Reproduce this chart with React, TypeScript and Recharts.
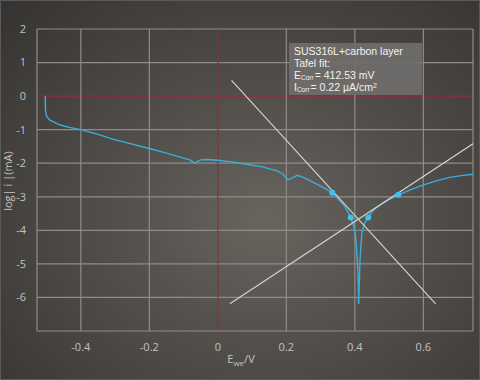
import React from 'react';
import { ComposedChart, Line, Scatter, XAxis, YAxis, ReferenceLine } from 'recharts';

// polarisation curve, E (V) vs log|i| (mA)
const curveE = [
  -0.504, -0.503, -0.5, -0.492, -0.48, -0.465, -0.45, -0.43, -0.4, -0.35, -0.307, -0.25, -0.2, -0.15,
  -0.11, -0.082, -0.068, -0.06, -0.05, -0.033, 0.0, 0.04, 0.084, 0.13, 0.171, 0.19, 0.205, 0.215, 0.232,
  0.25, 0.278, 0.298, 0.318, 0.334, 0.35, 0.366, 0.38, 0.388, 0.396, 0.401, 0.405, 0.408, 0.41, 0.411,
  0.413, 0.415, 0.418, 0.421, 0.428, 0.439, 0.45, 0.463, 0.492, 0.526, 0.56, 0.59, 0.63, 0.677, 0.71, 0.745,
];
const curveLogI = [
  0.0, -0.45, -0.6, -0.7, -0.77, -0.84, -0.89, -0.94, -1.0, -1.14, -1.28, -1.43, -1.56, -1.7,
  -1.82, -1.9, -1.99, -1.95, -1.9, -1.89, -1.91, -1.96, -2.03, -2.11, -2.22, -2.32, -2.5, -2.45, -2.36,
  -2.42, -2.57, -2.67, -2.78, -2.88, -3.05, -3.22, -3.45, -3.62, -3.85, -4.1, -4.5, -5.0, -5.6, -6.2,
  -5.6, -4.9, -4.4, -4.05, -3.8, -3.62, -3.45, -3.32, -3.12, -2.95, -2.8, -2.68, -2.55, -2.42, -2.37, -2.33,
];

// tafel fit lines
const cathodicE = [0.04, 0.636];
const cathodicLogI = [0.47, -6.19];
const anodicE = [0.035, 0.745];
const anodicLogI = [-6.19, -1.42];

// fit points
const fitE = [0.334, 0.388, 0.439, 0.527];
const fitLogI = [-2.88, -3.62, -3.62, -2.94];

const xMin = -0.528;
const xMax = 0.745;
const xTicks = [-0.4, -0.2, 0, 0.2, 0.4, 0.6];
const yTicks = [-6, -5, -4, -3, -2, -1, 0, 1, 2];
const yMin = -7;
const yMax = 2;

const curve = curveE.map((e, i) => ({ e, v: curveLogI[i] }));
const cathodic = cathodicE.map((e, i) => ({ e, v: cathodicLogI[i] }));
const anodic = anodicE.map((e, i) => ({ e, v: anodicLogI[i] }));
const fitPts = fitE.map((e, i) => ({ e, v: fitLogI[i] }));

const tickStyle = { fill: '#c4c2c0', fontSize: 11, fontFamily: '"Open Sans", sans-serif' };
const gridColor = '#8f8d89';
const zeroColor = '#8e2f3b';

const Dot = (props: any) => <circle cx={props.cx} cy={props.cy} r={3} fill="#3fc0f2" />;

const line = { height: 12, whiteSpace: 'nowrap' as const };
const sub = { fontSize: 6.5, position: 'relative' as const, top: 1, marginRight: 1 };

export default function App() {
  return (
    <div
      style={{
        position: 'absolute',
        left: 0,
        top: 0,
        width: 478,
        height: 378,
        border: '1px solid #5c5a58',
        background: 'radial-gradient(ellipse at 55% 58%, #68655f 0%, #4d4a47 50%, #353331 100%)',
        fontFamily: '"Open Sans", sans-serif',
      }}
    >
      <ComposedChart width={478} height={378} margin={{ top: 28, right: 6, bottom: 18, left: 0 }}>
        <XAxis
          type="number"
          dataKey="e"
          domain={[xMin, xMax]}
          ticks={xTicks}
          allowDataOverflow
          axisLine={false}
          tickLine={false}
          tick={tickStyle}
          tickMargin={6}
          height={30}
          label={{
            content: () => (
              <text x={240} y={362} textAnchor="middle" fill="#c4c2c0" fontSize={11}>
                E<tspan fontSize={8} dy={3}>we</tspan>
                <tspan dy={-3}>/V</tspan>
              </text>
            ),
          }}
        />
        <YAxis
          type="number"
          dataKey="v"
          domain={[yMin, yMax]}
          ticks={yTicks}
          allowDataOverflow
          axisLine={false}
          tickLine={false}
          tick={tickStyle}
          tickMargin={5}
          width={36}
          label={{
            content: () => (
              <text x={11} y={180} transform="rotate(-90 11 180)" textAnchor="middle" fill="#c4c2c0" fontSize={11}>
                log| i |(mA)
              </text>
            ),
          }}
        />
        {yTicks.map((t) => (
          <ReferenceLine key={'gy' + t} y={t} stroke={t === 0 ? zeroColor : gridColor} strokeWidth={1.2} />
        ))}
        {xTicks.map((t) => (
          <ReferenceLine key={'gx' + t} x={t} stroke={t === 0 ? zeroColor : gridColor} strokeWidth={1.2} />
        ))}
        <ReferenceLine y={yMin} stroke={gridColor} strokeWidth={1.2} />
        <ReferenceLine x={xMin} stroke={gridColor} strokeWidth={1.2} />
        <ReferenceLine x={xMax} stroke={gridColor} strokeWidth={1.2} />
        <Line data={curve} dataKey="v" type="linear" stroke="#3aaedc" strokeWidth={1.4} dot={false} isAnimationActive={false} />
        <Line data={cathodic} dataKey="v" type="linear" stroke="#d8d6d2" strokeWidth={1.1} dot={false} isAnimationActive={false} />
        <Line data={anodic} dataKey="v" type="linear" stroke="#d8d6d2" strokeWidth={1.1} dot={false} isAnimationActive={false} />
        <Scatter data={fitPts} dataKey="v" shape={<Dot />} isAnimationActive={false} />
      </ComposedChart>
      <div
        style={{
          position: 'absolute',
          left: 288,
          top: 42,
          width: 128,
          height: 50,
          padding: '2px 0 0 5px',
          background: 'rgba(112,110,107,0.92)',
          color: '#f2f2f0',
          fontFamily: '"Liberation Sans", Arial, sans-serif',
          fontSize: 10.5,
          lineHeight: '12px',
        }}
      >
        <div style={line}>SUS316L+carbon layer</div>
        <div style={line}>Tafel fit:</div>
        <div style={line}>
          E<span style={sub}>Corr</span>= 412.53 mV
        </div>
        <div style={line}>
          I<span style={sub}>Corr</span>= 0.22 µA/cm
          <span style={{ fontSize: 7, position: 'relative', top: -3 }}>2</span>
        </div>
      </div>
    </div>
  );
}
